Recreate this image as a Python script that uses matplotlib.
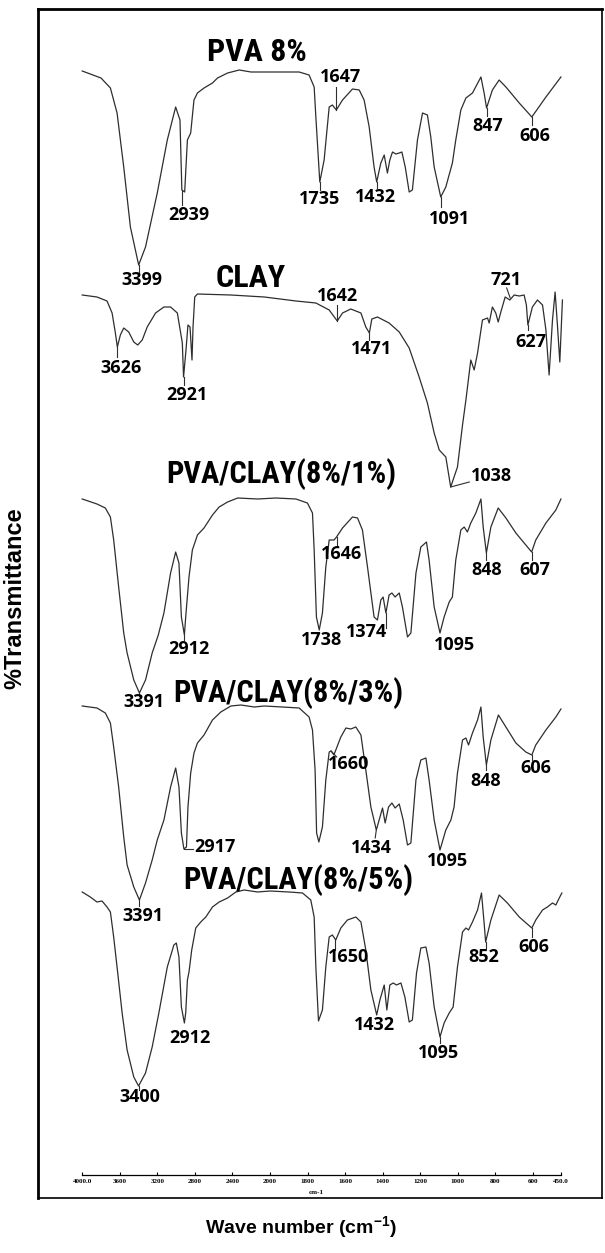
"""Stacked FTIR spectra of PVA, clay and PVA/clay films."""

import matplotlib

matplotlib.use("Agg")
import matplotlib.pyplot as plt
import numpy as np
from matplotlib import font_manager
from matplotlib.font_manager import FontProperties
from matplotlib.lines import Line2D

# wavenumber (cm-1) / stacked transmittance (a.u., each trace offset)
pva8_wn = [4000, 3800, 3700, 3629, 3558, 3487, 3399, 3326, 3201, 3094, 3005, 2959, 2939, 2909,
           2880, 2845, 2810, 2773, 2703, 2613, 2559, 2452, 2328, 2203, 2061, 1934, 1845, 1792,
           1765, 1756, 1735, 1712, 1685, 1668, 1647, 1614, 1561, 1525, 1499, 1472, 1446, 1432,
           1410, 1392, 1375, 1362, 1348, 1330, 1312, 1298, 1280, 1259, 1242, 1215, 1188, 1162,
           1144, 1126, 1091, 1064, 1029, 1011, 984, 957, 922, 877, 860, 847, 816, 780, 744, 673,
           606, 531, 451]
pva8_t = [1109, 1102, 1092, 1067, 1013, 953, 915, 933, 987, 1040, 1073, 1060, 990, 988,
          1040, 1047, 1080, 1087, 1092, 1097, 1102, 1107, 1110, 1108, 1108, 1108, 1108, 1105,
          1093, 1063, 998, 1020, 1073, 1075, 1070, 1080, 1091, 1090, 1080, 1053, 1013, 998,
          1017, 1025, 1007, 1020, 1028, 1026, 1027, 1028, 1013, 988, 990, 1040, 1067, 1065,
          1043, 1013, 983, 993, 1017, 1040, 1070, 1082, 1087, 1103, 1087, 1072, 1090, 1100, 1093, 1077,
          1063, 1083, 1103]

clay_wn = [4000, 3843, 3736, 3682, 3647, 3626, 3594, 3558, 3505, 3451, 3409, 3361, 3308, 3219,
           3130, 3059, 2987, 2934, 2921, 2895, 2874, 2852, 2831, 2820, 2802, 2773, 2417, 2061,
           1862, 1756, 1685, 1642, 1614, 1570, 1516, 1490, 1471, 1458, 1428, 1366, 1312, 1259,
           1206, 1162, 1126, 1099, 1064, 1038, 1002, 975, 957, 931, 913, 895, 869, 842, 833, 816,
           798, 785, 771, 748, 723, 700, 673, 647, 635, 627, 603, 576, 549, 531, 514, 496, 482,
           469, 457, 443]
clay_t = [885, 883, 879, 867, 847, 833, 845, 852, 848, 838, 835, 840, 853, 867,
          873, 873, 867, 837, 803, 830, 855, 853, 820, 853, 883, 886, 885, 883,
          879, 877, 870, 859, 867, 871, 867, 853, 847, 861, 863, 857, 848, 832,
          803, 777, 747, 730, 723, 693, 713, 755, 780, 820, 810, 827, 860, 862, 857, 873,
          867, 858, 868, 883, 880, 885, 884, 885, 875, 855, 873, 880, 875, 850, 805, 860, 888,
          853, 818, 880]

pc1_wn = [4000, 3843, 3754, 3700, 3665, 3612, 3558, 3522, 3451, 3391, 3326, 3255, 3190, 3130,
          3059, 3005, 2970, 2944, 2912, 2898, 2863, 2827, 2773, 2703, 2613, 2542, 2452, 2345,
          2132, 1969, 1862, 1801, 1774, 1765, 1753, 1738, 1721, 1703, 1685, 1659, 1646, 1614,
          1561, 1534, 1508, 1481, 1446, 1428, 1410, 1398, 1383, 1366, 1351, 1334, 1312, 1295,
          1268, 1250, 1223, 1197, 1167, 1153, 1126, 1095, 1073, 1046, 1029, 1011, 984, 966, 949,
          931, 904, 877, 865, 848, 824, 785, 744, 691, 638, 607, 585, 531, 478, 451]
pc1_t = [681, 676, 672, 663, 640, 593, 547, 527, 500, 487, 500, 527, 545, 567,
         607, 628, 617, 563, 545, 563, 603, 630, 645, 652, 665, 673, 678, 682,
         681, 682, 681, 677, 667, 630, 563, 550, 567, 613, 640, 640, 643, 652,
         663, 662, 650, 613, 563, 560, 580, 583, 567, 585, 587, 583, 587, 573,
         543, 547, 607, 633, 638, 620, 573, 547, 563, 578, 583, 620, 650, 653, 648,
         657, 667, 681, 653, 627, 653, 672, 662, 647, 635, 628, 640, 657, 670, 681]

pc3_wn = [4000, 3843, 3754, 3700, 3665, 3612, 3558, 3522, 3451, 3391, 3326, 3255, 3201, 3130,
          3059, 3005, 2970, 2944, 2917, 2890, 2874, 2845, 2810, 2773, 2703, 2613, 2524, 2417,
          2310, 2168, 2061, 1934, 1845, 1792, 1774, 1760, 1752, 1740, 1721, 1703, 1685, 1675,
          1660, 1623, 1596, 1570, 1543, 1516, 1490, 1463, 1434, 1419, 1401, 1387, 1369, 1351,
          1334, 1312, 1291, 1268, 1250, 1223, 1197, 1170, 1153, 1126, 1095, 1064, 1037, 1020,
          1002, 975, 957, 943, 922, 895, 877, 865, 848, 824, 784, 744, 691, 638, 606, 585, 531,
          478, 451]
pc3_t = [474, 472, 467, 457, 433, 393, 343, 315, 293, 280, 297, 320, 340, 360,
         393, 412, 393, 347, 331, 333, 373, 407, 427, 437, 445, 460, 468, 474,
         475, 473, 474, 473, 472, 463, 450, 410, 347, 338, 353, 400, 428, 429,
         425, 443, 452, 451, 453, 445, 410, 373, 350, 360, 372, 357, 373, 377,
         372, 376, 360, 335, 337, 400, 420, 422, 400, 360, 330, 350, 360, 373,
         407, 440, 442, 435, 447, 460, 473, 443, 415, 440, 465, 453, 437, 428, 425, 435, 450,
         463, 471]

pc5_wn = [4000, 3914, 3843, 3789, 3736, 3700, 3665, 3622, 3575, 3522, 3451, 3400, 3326, 3255,
          3184, 3094, 3024, 2998, 2970, 2944, 2912, 2898, 2880, 2863, 2834, 2791, 2738, 2684,
          2613, 2542, 2452, 2364, 2275, 2132, 2000, 1898, 1827, 1783, 1765, 1756, 1742, 1721,
          1703, 1685, 1668, 1650, 1623, 1588, 1543, 1516, 1490, 1463, 1432, 1415, 1392, 1378,
          1362, 1344, 1327, 1303, 1282, 1259, 1242, 1220, 1197, 1170, 1153, 1126, 1095, 1073,
          1046, 1025, 1002, 975, 957, 943, 922, 895, 874, 860, 852, 824, 780, 736, 673, 606,
          585, 549, 523, 496, 478, 460, 446]
pc5_t = [288, 283, 278, 279, 273, 268, 243, 207, 167, 130, 103, 94, 107, 133,
         167, 213, 235, 237, 223, 173, 157, 167, 200, 208, 230, 252, 258, 263,
         273, 278, 282, 288, 290, 288, 289, 288, 287, 280, 263, 213, 159, 170,
         213, 243, 245, 240, 252, 260, 263, 258, 230, 190, 165, 180, 195, 170,
         195, 197, 195, 197, 183, 158, 160, 207, 232, 233, 217, 173, 143, 157,
         167, 173, 213, 248, 252, 250, 258, 270, 287, 257, 238, 260, 285, 277, 263, 252,
         260, 270, 273, 277, 275, 282, 287]

sample_names = ["PVA 8%", "CLAY", "PVA/CLAY(8%/1%)", "PVA/CLAY(8%/3%)", "PVA/CLAY(8%/5%)"]

tick_wn = [4000, 3600, 3200, 2800, 2400, 2000, 1800, 1600, 1400, 1200, 1000, 800, 600, 450]
tick_labels = ["4000.0", "3600", "3200", "2800", "2400", "2000", "1800", "1600", "1400",
               "1200", "1000", "800", "600", "450.0"]

# title anchors (wavenumber, baseline, size) and peak annotations:
# (text, label x, label y, leader start, leader end)
TITLE_POS = [(2138, 1119, 23), (2206, 893, 23), (1939, 697, 22), (1904, 478, 22), (1851, 291, 22)]
PEAK_LABELS = [
    ("3399", 3366, 900, (3399, 915), (3399, 907)),
    ("2939", 2863, 965, (2939, 990), (2939, 975)),
    ("1735", 1734, 981, (1735, 998), (1735, 990)),
    ("1647", 1627, 1103, (1647, 1070), (1647, 1093)),
    ("1432", 1441, 983, (1432, 998), (1432, 992)),
    ("1091", 1042, 961, (1091, 983), (1091, 973)),
    ("847", 839, 1054, (847, 1072), (847, 1064)),
    ("606", 589, 1044, (606, 1063), (606, 1055)),
    ("3626", 3590, 812, (3626, 833), (3626, 823)),
    ("2921", 2887, 785, (2921, 803), (2921, 795)),
    ("1642", 1642, 884, (1642, 859), (1642, 875)),
    ("1471", 1462, 831, (1471, 847), (1471, 840)),
    ("1038", 819, 704, (1038, 693), (939, 698)),
    ("721", 745, 900, (721, 882), (740, 892)),
    ("627", 612, 838, (627, 855), (627, 850)),
    ("2912", 2859, 531, (2912, 545), (2912, 540)),
    ("3391", 3342, 478, (3391, 487), (3391, 484)),
    ("1738", 1726, 540, None, None),
    ("1374", 1485, 548, (1383, 567), (1383, 552)),
    ("1646", 1618, 626, (1646, 643), (1646, 633)),
    ("1095", 1020, 535, None, None),
    ("848", 846, 610, (848, 627), (848, 620)),
    ("607", 589, 610, (607, 628), (607, 620)),
    ("3391", 3356, 264, (3391, 280), (3391, 274)),
    ("2917", 2586, 333, (2917, 331), (2820, 331)),
    ("1660", 1583, 416, (1675, 429), (1645, 423)),
    ("1434", 1458, 332, (1434, 350), (1440, 342)),
    ("1095", 1056, 319, None, None),
    ("848", 850, 399, (848, 415), (848, 410)),
    ("606", 584, 412, (606, 425), (606, 420)),
    ("3400", 3385, 83, (3400, 94), (3400, 90)),
    ("2912", 2852, 142, None, None),
    ("1650", 1583, 223, (1653, 240), (1653, 230)),
    ("1432", 1446, 155, None, None),
    ("1095", 1104, 127, (1095, 143), (1095, 137)),
    ("852", 860, 223, (852, 238), (852, 232)),
    ("606", 594, 233, (606, 252), (606, 243)),
]

# narrow bold sans families to try for the titles, best first
PREFERRED = ["Liberation Sans Narrow", "Roboto Condensed", "Noto Sans", "Open Sans",
             "Lato", "Inter", "DejaVu Sans"]

W, H = 605, 1253


def fx(px):
    return px / W


def fy(py):
    return 1 - py / H


def forward(w):
    w = np.asarray(w, dtype=float)
    return np.where(w > 2000, 2000 + (w - 2000) / 2, w)


def inverse(u):
    u = np.asarray(u, dtype=float)
    return np.where(u > 2000, 2000 + (u - 2000) * 2, u)


def is_bold(weight):
    if isinstance(weight, str):
        return weight in ("bold", "heavy", "extra bold", "black", "demibold", "semibold")
    return weight >= 600


def find_condensed_bold():
    """Look for an installed narrow bold sans for the sample titles."""
    best = None
    for f in font_manager.fontManager.ttflist:
        narrow = ("Condensed" in f.name or "Narrow" in f.name
                  or "Condensed" in f.fname or "Narrow" in f.fname
                  or f.stretch in ("condensed", "semi-condensed", "extra-condensed"))
        if not narrow or not is_bold(f.weight) or f.style != "normal":
            continue
        if "Mono" in f.name or "Serif" in f.name:
            continue
        rank = len(PREFERRED)
        for i, fam in enumerate(PREFERRED):
            if f.name.startswith(fam):
                rank = i
                break
        base = f.fname.rsplit("/", 1)[-1]
        if "ExtraCondensed" in base or "UltraCondensed" in base:
            rank += 0.5
        elif "SemiCondensed" in base:
            rank += 0.3
        if best is None or rank < best[0]:
            best = (rank, f.fname, f.name)
    return best


def title_props(size):
    found = find_condensed_bold()
    if found is None:
        return FontProperties(family="Liberation Sans", weight="bold", size=size * 0.85)
    _, fname, name = found
    if name.startswith("DejaVu"):
        size *= 0.84
    return FontProperties(fname=fname, size=size)


def main():
    fig = plt.figure(figsize=(W / 100, H / 100), dpi=100)

    # outer frame
    for (x0, y0, x1, y1, lw) in [(38, 8.5, 38, 1197.5, 2.0), (38, 8.5, 601.5, 8.5, 2.0),
                                 (601.5, 8.5, 601.5, 1197.5, 1.2), (38, 1197.5, 601.5, 1197.5, 1.2)]:
        fig.add_artist(Line2D([fx(x0), fx(x1)], [fy(y0), fy(y1)], transform=fig.transFigure,
                              color="black", lw=lw, solid_capstyle="projecting"))

    ax = fig.add_axes([fx(38), fy(1197.5), (601.5 - 38) / W, (1197.5 - 8.5) / H])
    ax.patch.set_alpha(0)
    ax.set_xscale("function", functions=(forward, inverse))
    ax.set_xlim(4471, 235)
    ax.set_ylim(-17.5, 1171.5)

    spectra = [(pva8_wn, pva8_t), (clay_wn, clay_t), (pc1_wn, pc1_t), (pc3_wn, pc3_t), (pc5_wn, pc5_t)]
    for wn, t in spectra:
        ax.plot(wn, t, color="#2e2e2e", lw=0.9)

    for name, (tx, ty, size) in zip(sample_names, TITLE_POS):
        ax.text(tx, ty, name, ha="center", va="baseline", color="black",
                fontproperties=title_props(size))

    for text, lx, ly, p0, p1 in PEAK_LABELS:
        ax.text(lx, ly, text, ha="center", va="center", fontsize=13, fontweight="bold",
                family=["Open Sans", "DejaVu Sans"], color="black")
        if p0 is not None:
            ax.plot([p0[0], p1[0]], [p0[1], p1[1]], color="#2e2e2e", lw=0.8)

    for side in ["top", "left", "right"]:
        ax.spines[side].set_visible(False)
    ax.spines["bottom"].set_position(("data", 5))
    ax.spines["bottom"].set_bounds(450, 4000)
    ax.spines["bottom"].set_linewidth(0.9)
    ax.set_yticks([])
    ax.set_xticks(tick_wn)
    ax.set_xticklabels(tick_labels, fontsize=5, fontweight="bold", family="Liberation Serif")
    ax.xaxis.set_minor_locator(matplotlib.ticker.NullLocator())
    ax.tick_params(axis="x", direction="in", length=2, width=0.8, pad=3)

    fig.text(fx(316), fy(1192), "cm-1", ha="center", va="center", fontsize=5,
             fontweight="bold", family="Liberation Serif")
    fig.text(fx(15), fy(598), "%Transmittance", rotation=90, ha="center", va="center",
             fontsize=17, fontweight="bold", family="Liberation Sans")
    plt.rcParams["mathtext.fontset"] = "custom"
    plt.rcParams["mathtext.bf"] = "Liberation Sans:bold"
    plt.rcParams["mathtext.rm"] = "Liberation Sans"
    fig.text(fx(301), fy(1228), r"Wave number (cm$^{\mathbf{-1}}$)", ha="center", va="center",
             fontsize=14, fontweight="bold", family="Liberation Sans")

    fig.savefig("out.png", dpi=100)
    plt.close(fig)


if __name__ == "__main__":
    main()
